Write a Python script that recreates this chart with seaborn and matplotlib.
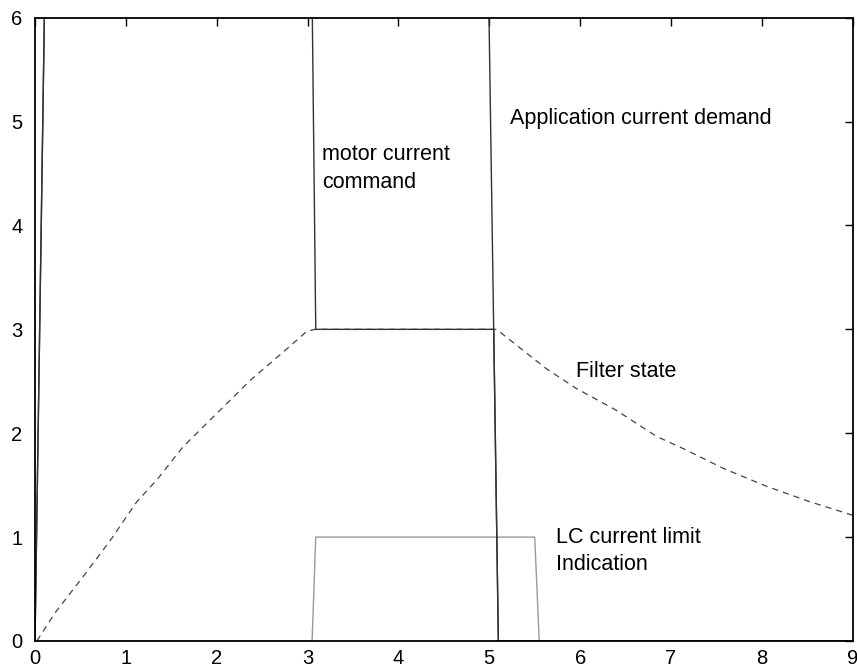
import numpy as np
import pandas as pd
import seaborn as sns
import matplotlib
matplotlib.use("Agg")
import matplotlib.pyplot as plt

# ---- data ----
demand_x = [0.0, 0.12, 4.98, 5.10, 9.0]
demand_y = [0.0, 7.0, 7.0, 0.0, 0.0]

motor_x = [0.0, 0.12, 3.04, 3.09, 5.049, 5.10, 9.0]
motor_y = [0.0, 7.0, 7.0, 3.0, 3.0, 0.0, 0.0]

lc_x = [0.0, 3.05, 3.09, 5.50, 5.55, 9.0]
lc_y = [0.0, 0.0, 1.0, 1.0, 0.0, 0.0]

filter_x = [0.02, 0.22, 0.53, 0.83, 1.12, 1.34, 1.63, 2.00, 2.37, 2.73, 2.99, 3.08,
            5.08, 5.63, 5.96, 6.40, 6.84, 7.14, 7.58, 8.05, 8.53, 8.93, 9.0]
filter_y = [0.0, 0.27, 0.62, 0.97, 1.34, 1.55, 1.87, 2.19, 2.51, 2.78, 2.98, 3.0,
            3.0, 2.62, 2.43, 2.22, 1.97, 1.85, 1.66, 1.49, 1.34, 1.23, 1.21]

x_ticks = [0, 1, 2, 3, 4, 5, 6, 7, 8, 9]
y_ticks = [0, 1, 2, 3, 4, 5, 6]

sns.set_style("white")
plt.rcParams['font.family'] = ['Liberation Sans', 'DejaVu Sans']
plt.rcParams['text.color'] = 'black'

fig = plt.figure(figsize=(8.57, 6.71), dpi=100)
ax = fig.add_axes([35 / 857, 1 - 641 / 671, (852.7 - 35) / 857, (641 - 17.7) / 671])

def draw(xs, ys, color, lw, ls='-'):
    df = pd.DataFrame({'x': xs, 'y': ys})
    sns.lineplot(data=df, x='x', y='y', ax=ax, color=color, linewidth=lw,
                 linestyle=ls, estimator=None, sort=False, legend=False)

draw(lc_x, lc_y, '#9a9a9a', 1.0)
draw(filter_x, filter_y, '#444444', 0.9, (0, (5, 4)))
draw(demand_x, demand_y, '#333333', 1.0)
draw(motor_x, motor_y, '#333333', 1.0)

ax.set_xlim(0, 9)
ax.set_ylim(0, 6)
ax.set_xticks(x_ticks)
ax.set_yticks(y_ticks)
ax.set_xlabel('')
ax.set_ylabel('')
ax.tick_params(direction='in', length=6, width=1, top=True, right=True,
               labelsize=14.5, colors='black')
ax.tick_params(axis='y', pad=9)
ax.tick_params(axis='x', pad=6)
for s in ax.spines.values():
    s.set_visible(True)
    s.set_color('black')
    s.set_linewidth(1.3)

fs = 15.5
ax.text(5.23, 5.03, 'Application current demand', fontsize=fs, va='center', ha='left', color='black')
ax.text(3.16, 4.55, 'motor current\ncommand', fontsize=fs, va='center', ha='left',
        linespacing=1.4, color='black')
ax.text(5.96, 2.59, 'Filter state', fontsize=fs, va='center', ha='left', color='black')
ax.text(5.73, 0.865, 'LC current limit\nIndication', fontsize=fs, va='center',
        ha='left', linespacing=1.4, color='black')

fig.savefig('out.png', dpi=100)
